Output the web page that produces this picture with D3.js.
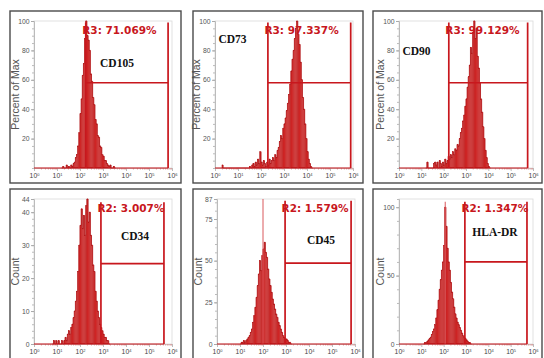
<!DOCTYPE html>
<html>
<head>
<meta charset="utf-8">
<script src="https://cdn.jsdelivr.net/npm/d3@7"></script>
<style>
  body { margin: 0; background: #fff; }
  svg { display: block; }
</style>
</head>
<body>
<svg id="chart" width="544" height="358"></svg>
<script>
// ---- data ----
const markers = ['CD105', 'CD73', 'CD90', 'CD34', 'CD45', 'HLA-DR'];
const gateNames = ['R3', 'R3', 'R3', 'R2', 'R2', 'R2'];
const gatePercents = ['71.069%', '97.337%', '99.129%', '3.007%', '1.579%', '1.347%'];
const yTitles = ['Percent of Max', 'Percent of Max', 'Percent of Max', 'Count', 'Count', 'Count'];
const yMax = [100, 100, 100, 44, 87, 106];
const yTicks = [
  [20, 40, 60, 80, 100], [20, 40, 60, 80, 100], [20, 40, 60, 80, 100],
  [0, 10, 20, 30, 40, 44], [0, 25, 50, 75, 87], [0, 50, 100]
];
const yMinorStep = [5, 5, 5, 2, 5, 10];
const decades = [0, 1, 2, 3, 4, 5, 6];

// gates (log10 of intensity) and the level of the horizontal bar
const gateLo = [2.25, 2.3, 2.23, 2.91, 2.96, 2.95];
const gateHi = [5.83, 5.9, 5.76, 5.65, 5.83, 5.73];
const gateLevel = [58, 58, 58, 24.4, 48.5, 60];
const gateTop = [99, 99, 99, 43, 86, 104];

// histogram bins: first bin (log10) and counts per 0.05-decade bin
const binWidth = 0.05;
const binStart = [1.2, 0.3, 1.2, 0.8, 1.0, 1.1];
const cd105 = [0, 1, 0, 0, 2, 0, 1, 0, 2, 1, 3, 4, 7, 9, 15, 24, 37, 47, 63, 71, 88, 100, 90, 87,
  80, 64, 59, 48, 43, 33, 30, 22, 21, 15, 14, 9, 8, 5, 5, 3, 2, 1, 2, 0, 0, 1, 0];
const cd73 = [2, 0, 0, 0, 0, 0, 0, 0, 0, 0, 0, 0, 0, 0, 0, 0, 0, 0, 0, 0, 0, 0, 0, 0,
  1, 0, 2, 3, 1, 4, 2, 6, 3, 11, 4, 2, 5, 3, 1, 4, 2, 6, 3, 5, 7, 5, 9, 7, 12, 14, 18, 22,
  20, 27, 30, 34, 39, 44, 50, 57, 66, 74, 80, 88, 95, 100, 91, 84, 72, 60, 48, 40, 30, 20,
  11, 6, 3, 1, 0];
const cd90 = [0, 4, 0, 0, 0, 0, 0, 3, 4, 2, 4, 0, 5, 3, 1, 4, 2, 6, 3, 5, 8, 6, 9, 7, 11, 9,
  13, 12, 16, 15, 20, 24, 27, 32, 36, 42, 47, 55, 62, 70, 82, 78, 92, 100, 88, 95, 76, 68,
  58, 47, 38, 28, 20, 12, 7, 3, 1, 0];
const cd34 = [0, 1, 0, 1, 0, 1, 0, 0, 1, 0, 1, 2, 1, 3, 4, 3, 5, 6, 8, 10, 13, 16, 22, 30,
  36, 41, 35, 39, 33, 42, 44, 37, 40, 33, 30, 24, 22, 16, 13, 10, 8, 6, 5, 4, 3, 2, 2, 1, 1, 0];
const cd45 = [0, 1, 1, 2, 1, 2, 3, 4, 5, 7, 9, 13, 17, 22, 28, 35, 42, 50, 44, 53, 57, 61,
  55, 52, 45, 39, 35, 31, 27, 24, 21, 18, 16, 13, 11, 9, 7, 5, 4, 3, 3, 2, 1, 1, 0];
const hladr = [0, 1, 1, 2, 3, 4, 5, 7, 9, 11, 14, 19, 25, 32, 40, 47, 54, 60, 72, 100, 86,
  70, 60, 54, 45, 38, 33, 27, 22, 19, 16, 14, 12, 10, 8, 6, 5, 4, 3, 2, 1, 1, 0];
const histograms = [cd105, cd73, cd90, cd34, cd45, hladr];
// single tall channel spike seen in two panels (log10 position, height)
const spikeAt = [null, null, null, null, 2.0, 2.07];
const spikeHeight = [null, null, null, null, 87, 104];

// ---- layout ----
const frameX = [10, 193, 373];
const frameW = [171, 170, 169];
const frameY = [11, 189];
const frameH = [172, 175];
const plotX0 = [[34, 215, 399], [34, 217, 399]];
const plotW = [138, 138, 134];
const plotTop = [21, 199];
const plotBase = [168, 344];
const labelDx = [83, 17.5, 17.5, 101, 104, 96];
const labelDy = [46, 22, 34, 41, 45, 37];

const RED = '#c8171d';
const svg = d3.select('#chart');

markers.forEach((name, i) => {
  const row = Math.floor(i / 3), col = i % 3;
  const x0 = plotX0[row][col];
  const x = d3.scaleLinear().domain([0, 6]).range([x0, x0 + plotW[col]]);
  const y = d3.scaleLinear().domain([0, yMax[i]]).range([plotBase[row], plotTop[row]]);
  const g = svg.append('g');

  // panel frame
  g.append('rect')
    .attr('x', frameX[col]).attr('y', frameY[row])
    .attr('width', frameW[col]).attr('height', frameH[row])
    .attr('fill', '#fff').attr('stroke', '#4a4a4a').attr('stroke-width', 1.4);

  // faint plot box
  g.append('rect')
    .attr('x', x(0)).attr('y', plotTop[row])
    .attr('width', x(6) - x(0)).attr('height', plotBase[row] - plotTop[row])
    .attr('fill', 'none').attr('stroke', '#d9d9d9').attr('stroke-width', 0.8);

  // y axis
  const minor = d3.range(0, yMax[i] + 0.001, yMinorStep[i]);
  g.append('g')
    .attr('transform', `translate(${x(0)},0)`)
    .call(d3.axisLeft(y).tickValues(minor).tickSize(2).tickFormat(''))
    .call(s => s.select('.domain').attr('stroke', '#bbb'))
    .call(s => s.selectAll('line').attr('stroke', '#bbb'));
  g.append('g')
    .attr('transform', `translate(${x(0)},0)`)
    .call(d3.axisLeft(y).tickValues(yTicks[i]).tickSize(3).tickPadding(1.5))
    .call(s => s.select('.domain').remove())
    .call(s => s.selectAll('line').attr('stroke', '#aaa'))
    .call(s => s.selectAll('text').attr('font-family', 'Liberation Sans, Arial, sans-serif')
      .attr('font-size', 6.8).attr('fill', '#555'));

  // x axis (log decades with minor ticks)
  const xMinor = [];
  decades.slice(0, -1).forEach(d => d3.range(2, 10).forEach(m => xMinor.push(d + Math.log10(m))));
  g.append('g')
    .attr('transform', `translate(0,${plotBase[row]})`)
    .call(d3.axisBottom(x).tickValues(xMinor).tickSize(1.5).tickFormat(''))
    .call(s => s.select('.domain').attr('stroke', '#ccc'))
    .call(s => s.selectAll('line').attr('stroke', '#d8a0a0'));
  const xAx = g.append('g')
    .attr('transform', `translate(0,${plotBase[row]})`)
    .call(d3.axisBottom(x).tickValues(decades).tickSize(3).tickFormat(''));
  xAx.select('.domain').remove();
  xAx.selectAll('line').attr('stroke', '#bbb');
  xAx.selectAll('.tick').append('text')
    .attr('y', 10).attr('fill', '#444')
    .attr('font-family', 'Liberation Sans, Arial, sans-serif')
    .attr('font-size', 6.8).attr('text-anchor', 'middle')
    .call(t => t.append('tspan').text('10'))
    .call(t => t.append('tspan').attr('dy', -2.5).attr('font-size', 4).text(d => d));

  // y title
  g.append('text')
    .attr('transform', `translate(${x0 - 15},${(plotTop[row] + plotBase[row]) / 2}) rotate(-90)`)
    .attr('text-anchor', 'middle')
    .attr('font-family', 'Liberation Sans, Arial, sans-serif')
    .attr('font-size', 10.5).attr('fill', '#555')
    .text(yTitles[i]);

  // histogram
  const counts = histograms[i];
  const bins = counts.map((v, k) => ({ lo: binStart[i] + k * binWidth, v }));
  g.append('g').selectAll('rect')
    .data(bins.filter(b => b.v > 0))
    .join('rect')
    .attr('x', b => x(b.lo))
    .attr('width', b => x(b.lo + binWidth) - x(b.lo))
    .attr('y', b => y(b.v))
    .attr('height', b => y(0) - y(b.v))
    .attr('fill', '#d42a2a')
    .attr('stroke', '#b01414').attr('stroke-width', 0.25);
  const line = d3.line().curve(d3.curveStepAfter).x(d => x(d.lo)).y(d => y(d.v));
  g.append('path')
    .datum(bins.concat([{ lo: binStart[i] + counts.length * binWidth, v: 0 }]))
    .attr('d', line).attr('fill', 'none')
    .attr('stroke', '#b3191c').attr('stroke-width', 0.8);

  if (spikeAt[i] !== null) {
    g.append('line')
      .attr('x1', x(spikeAt[i])).attr('x2', x(spikeAt[i]))
      .attr('y1', y(0)).attr('y2', y(spikeHeight[i]))
      .attr('stroke', '#d9585c').attr('stroke-width', 1);
  }

  // red baseline
  g.append('line')
    .attr('x1', x(0)).attr('x2', x(gateHi[i]))
    .attr('y1', y(0)).attr('y2', y(0))
    .attr('stroke', RED).attr('stroke-width', 1.2);

  // gate marker
  g.append('path')
    .attr('d', `M${x(gateLo[i])},${y(gateTop[i])}V${y(0)}` +
      `M${x(gateHi[i])},${y(gateTop[i])}V${y(0)}` +
      `M${x(gateLo[i])},${y(gateLevel[i])}H${x(gateHi[i])}`)
    .attr('fill', 'none').attr('stroke', RED).attr('stroke-width', 1.7);

  g.append('text')
    .attr('x', x(gateLo[i]) - 3.5).attr('y', plotTop[row] + 13)
    .attr('font-family', 'DejaVu Sans, Verdana, sans-serif')
    .attr('font-weight', 'bold').attr('font-size', 10.5).attr('fill', RED)
    .text(`${gateNames[i]}: ${gatePercents[i]}`);

  g.append('text')
    .attr('x', x0 + labelDx[i]).attr('y', plotTop[row] + labelDy[i])
    .attr('text-anchor', 'middle')
    .attr('font-family', 'Liberation Serif, Times New Roman, serif')
    .attr('font-weight', 'bold').attr('font-size', 11.5).attr('fill', '#111')
    .text(name);
});
</script>
</body>
</html>
